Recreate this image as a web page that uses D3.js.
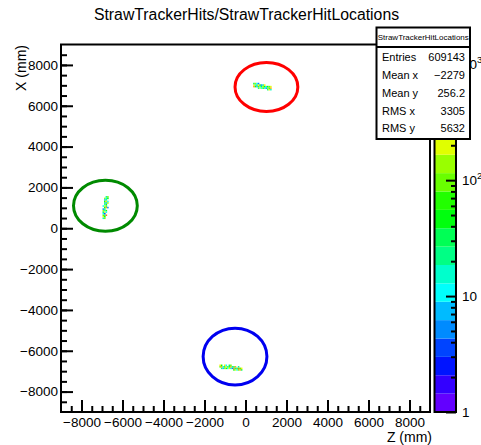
<!DOCTYPE html>
<html>
<head>
<meta charset="utf-8">
<script src="https://cdn.jsdelivr.net/npm/d3@7"></script>
<style>
  body { margin: 0; background: #fff; }
  svg { display: block; font-family: "Liberation Sans", Arial, Helvetica, sans-serif; }
</style>
</head>
<body>
<svg id="chart" width="481" height="445"></svg>
<script>
// ---- data -------------------------------------------------------------
const titleText = "StrawTrackerHits/StrawTrackerHitLocations";
const zAxisTitle = "Z (mm)";
const xAxisTitle = "X (mm)";
const histName = "StrawTrackerHitLocations";

const zDomain = [-9000, 9000];
const xDomain = [-9000, 9000];
const countDomain = [1, 1480];
const nContours = 20;
const binSize = 75; // mm per histogram bin

const zMajorTicks = [-8000, -6000, -4000, -2000, 0, 2000, 4000, 6000, 8000];
const xMajorTicks = [-8000, -6000, -4000, -2000, 0, 2000, 4000, 6000, 8000];
const minorStep = 500;
const paletteMajorTicks = [1, 10, 100, 1000];
const paletteLabels = [["1", ""], ["10", ""], ["10", "2"], ["10", "3"]];

const statsLabels = ["Entries", "Mean x", "Mean y", "RMS x", "RMS y"];
const statsValues = ["609143", "\u22122279", "256.2", "3305", "5632"];

// filled bins: [z lower edge, x lower edge, entries]
const stationA = [
  [375, 6900, 420], [375, 6975, 240], [375, 7050, 30],
  [450, 6900, 60], [450, 6975, 18], [450, 7050, 150],
  [525, 6900, 8], [525, 6975, 35], [525, 7050, 12],
  [600, 6825, 20], [600, 6900, 110], [600, 6975, 300], [600, 7050, 6],
  [675, 6825, 190], [675, 6900, 14], [675, 6975, 45],
  [750, 6825, 9], [750, 6900, 28], [750, 6975, 5],
  [825, 6825, 70], [825, 6900, 160], [825, 6975, 22],
  [900, 6825, 12], [900, 6900, 40], [900, 6975, 260],
  [975, 6825, 6], [975, 6900, 16],
  [1050, 6750, 25], [1050, 6825, 130], [1050, 6900, 55],
  [1125, 6750, 340], [1125, 6825, 32], [1125, 6900, 90],
  [1200, 6750, 15], [1200, 6825, 380], [1200, 6900, 200]
];
const stationB = [
  [-6825, 1500, 25], [-6750, 1500, 90],
  [-6900, 1425, 160], [-6825, 1425, 14], [-6750, 1425, 40],
  [-6900, 1350, 8], [-6825, 1350, 22],
  [-6900, 1275, 55], [-6825, 1275, 320], [-6750, 1275, 12],
  [-6900, 1200, 30], [-6825, 1200, 7], [-6750, 1200, 120],
  [-6900, 1125, 18], [-6825, 1125, 65],
  [-6975, 1050, 10], [-6900, 1050, 210], [-6825, 1050, 28],
  [-6900, 975, 40], [-6825, 975, 450], [-6750, 975, 6],
  [-6975, 900, 5], [-6900, 900, 20],
  [-6975, 825, 130], [-6900, 825, 16], [-6825, 825, 60],
  [-6975, 750, 35], [-6900, 750, 250], [-6825, 750, 9],
  [-6975, 675, 12], [-6900, 675, 4],
  [-6975, 600, 80], [-6900, 600, 24], [-6825, 600, 520],
  [-6975, 525, 190], [-6900, 525, 45],
  [-6975, 450, 14], [-6900, 450, 110]
];
const stationC = [
  [-1275, -6825, 90], [-1275, -6750, 260],
  [-1200, -6900, 25], [-1200, -6825, 450], [-1200, -6750, 40],
  [-1125, -6900, 8], [-1125, -6825, 18],
  [-1050, -6900, 150], [-1050, -6825, 30], [-1050, -6750, 300],
  [-975, -6900, 60], [-975, -6825, 280], [-975, -6750, 12],
  [-900, -6900, 10], [-900, -6825, 22],
  [-825, -6900, 230], [-825, -6825, 70], [-825, -6750, 30],
  [-750, -6900, 15], [-750, -6825, 350], [-750, -6750, 110],
  [-675, -6900, 6], [-675, -6825, 20],
  [-600, -6975, 50], [-600, -6900, 620], [-600, -6825, 35],
  [-525, -6975, 190], [-525, -6900, 20], [-525, -6825, 400],
  [-450, -6975, 9], [-450, -6900, 28],
  [-375, -6975, 80], [-375, -6900, 700], [-375, -6825, 25],
  [-300, -6975, 420], [-300, -6900, 60],
  [-225, -6975, 35], [-225, -6900, 240]
];

// ring annotations around each station: centre and half-axes in mm
const rings = [
  { z: 1021, x: 6923, hz: 1532, hx: 1199, color: "#ff0000" },
  { z: -6834, x: 1101, hz: 1556, hx: 1248, color: "#008a00" },
  { z: -511, x: -6287, hz: 1556, hx: 1394, color: "#0000f0" }
];

// ---- layout ----------------------------------------------------------
const svg = d3.select("#chart");
const frame = { left: 61, right: 430, top: 44.5, bottom: 412 };
const pal = { left: 434.5, right: 456, top: 44.5, bottom: 412 };

const zScale = d3.scaleLinear().domain(zDomain).range([frame.left, frame.right]);
const xScale = d3.scaleLinear().domain(xDomain).range([frame.bottom, frame.top]);
const cScale = d3.scaleLog().domain(countDomain).range([pal.bottom, pal.top]);

// ROOT "pretty" palette: 50 HLS hues from violet to red, sampled by 20 contours
function contourColor(j) {
  const idx = Math.floor((j + 0.99) * 50 / nContours);
  const hue = 280 - (idx + 1) * (280 / 50);
  return d3.hsl(hue, 1, 0.5).toString();
}
const logMax = Math.log(countDomain[1]);
function binColor(n) {
  const j = Math.min(nContours - 1, Math.max(0, Math.floor(Math.log(n) / logMax * nContours)));
  return contourColor(j);
}

// title
svg.append("text")
  .attr("x", 246.5).attr("y", 20)
  .attr("text-anchor", "middle")
  .attr("font-size", 15.8)
  .text(titleText);

// histogram bins
const cells = svg.append("g");
[stationA, stationB, stationC].forEach(station => {
  cells.selectAll(null).data(station).enter().append("rect")
    .attr("x", d => zScale(d[0]))
    .attr("y", d => xScale(d[1] + binSize))
    .attr("width", d => zScale(d[0] + binSize) - zScale(d[0]))
    .attr("height", d => xScale(d[1]) - xScale(d[1] + binSize))
    .attr("fill", d => binColor(d[2]));
});

// rings
svg.append("g").selectAll("ellipse").data(rings).enter().append("ellipse")
  .attr("cx", d => zScale(d.z))
  .attr("cy", d => xScale(d.x))
  .attr("rx", d => zScale(d.z + d.hz) - zScale(d.z))
  .attr("ry", d => xScale(d.x) - xScale(d.x + d.hx))
  .attr("fill", "none")
  .attr("stroke", d => d.color)
  .attr("stroke-width", 3);

// axes
const minorZ = d3.range(zDomain[0], zDomain[1] + 1, minorStep).filter(v => v > zDomain[0] && v < zDomain[1]);
const minorX = d3.range(xDomain[0], xDomain[1] + 1, minorStep).filter(v => v > xDomain[0] && v < xDomain[1]);
const fmt = d3.format("d");

function styleAxis(g) {
  g.select(".domain").remove();
  g.selectAll(".tick line").attr("stroke", "#000").attr("stroke-width", 2);
  g.selectAll(".tick text").attr("font-size", 13.5).attr("fill", "#000");
}

svg.append("g").attr("transform", `translate(0,${frame.bottom})`)
  .call(d3.axisBottom(zScale).tickValues(minorZ).tickSize(-6).tickFormat(""))
  .call(styleAxis);
svg.append("g").attr("transform", `translate(0,${frame.bottom})`)
  .call(d3.axisBottom(zScale).tickValues(zMajorTicks).tickSize(-12).tickPadding(5).tickFormat(fmt))
  .call(styleAxis);

svg.append("g").attr("transform", `translate(${frame.left},0)`)
  .call(d3.axisLeft(xScale).tickValues(minorX).tickSize(-6).tickFormat(""))
  .call(styleAxis);
svg.append("g").attr("transform", `translate(${frame.left},0)`)
  .call(d3.axisLeft(xScale).tickValues(xMajorTicks).tickSize(-12).tickPadding(3).tickFormat(fmt))
  .call(styleAxis);

// frame
svg.append("rect")
  .attr("x", frame.left).attr("y", frame.top)
  .attr("width", frame.right - frame.left).attr("height", frame.bottom - frame.top)
  .attr("fill", "none").attr("stroke", "#000").attr("stroke-width", 2);

// axis titles
svg.append("text")
  .attr("x", 432).attr("y", 442)
  .attr("text-anchor", "end").attr("font-size", 14)
  .text(zAxisTitle);
svg.append("text")
  .attr("transform", "translate(26,45) rotate(-90)")
  .attr("text-anchor", "end").attr("font-size", 14)
  .text(xAxisTitle);

// colour palette
const levels = d3.range(nContours + 1).map(i => Math.exp(logMax * i / nContours));
svg.append("g").selectAll("rect").data(d3.range(nContours)).enter().append("rect")
  .attr("x", pal.left).attr("width", pal.right - pal.left)
  .attr("y", j => cScale(levels[j + 1]))
  .attr("height", j => cScale(levels[j]) - cScale(levels[j + 1]))
  .attr("fill", j => contourColor(j));

const paletteMinor = [];
[1, 10, 100, 1000].forEach(dec => d3.range(2, 10).forEach(m => {
  const v = dec * m;
  if (v < countDomain[1]) paletteMinor.push(v);
}));
svg.append("g").attr("transform", `translate(${pal.right},0)`)
  .call(d3.axisRight(cScale).tickValues(paletteMinor).tickSize(-5).tickFormat(""))
  .call(styleAxis);
svg.append("g").attr("transform", `translate(${pal.right},0)`)
  .call(d3.axisRight(cScale).tickValues(paletteMajorTicks).tickSize(-10).tickFormat(""))
  .call(styleAxis);

svg.append("rect")
  .attr("x", pal.left).attr("y", pal.top)
  .attr("width", pal.right - pal.left).attr("height", pal.bottom - pal.top)
  .attr("fill", "none").attr("stroke", "#000").attr("stroke-width", 2);

const palLab = svg.append("g").selectAll("text").data(paletteMajorTicks).enter().append("text")
  .attr("x", 462)
  .attr("y", d => cScale(d) + 5)
  .attr("font-size", 13.5);
palLab.append("tspan").text((d, i) => paletteLabels[i][0]);
palLab.append("tspan").attr("dy", -6).attr("font-size", 9.5).text((d, i) => paletteLabels[i][1]);

// statistics box
const sb = { left: 376.5, right: 470, top: 27.5, head: 47, bottom: 139 };
svg.append("rect")
  .attr("x", sb.left).attr("y", sb.top)
  .attr("width", sb.right - sb.left).attr("height", sb.bottom - sb.top)
  .attr("fill", "#fff").attr("stroke", "#000").attr("stroke-width", 2);
svg.append("line")
  .attr("x1", sb.left).attr("x2", sb.right).attr("y1", sb.head).attr("y2", sb.head)
  .attr("stroke", "#000").attr("stroke-width", 2);
svg.append("text")
  .attr("x", (sb.left + sb.right) / 2).attr("y", 40)
  .attr("text-anchor", "middle").attr("font-size", 8)
  .attr("textLength", 91).attr("lengthAdjust", "spacingAndGlyphs")
  .text(histName);
const rowY = [57, 75, 93, 110.5, 128];
svg.append("g").selectAll("text").data(statsLabels).enter().append("text")
  .attr("x", 382).attr("y", (d, i) => rowY[i] + 4)
  .attr("font-size", 11).text(d => d);
svg.append("g").selectAll("text").data(statsValues).enter().append("text")
  .attr("x", 465).attr("y", (d, i) => rowY[i] + 4)
  .attr("text-anchor", "end").attr("font-size", 11).text(d => d);
</script>
</body>
</html>
